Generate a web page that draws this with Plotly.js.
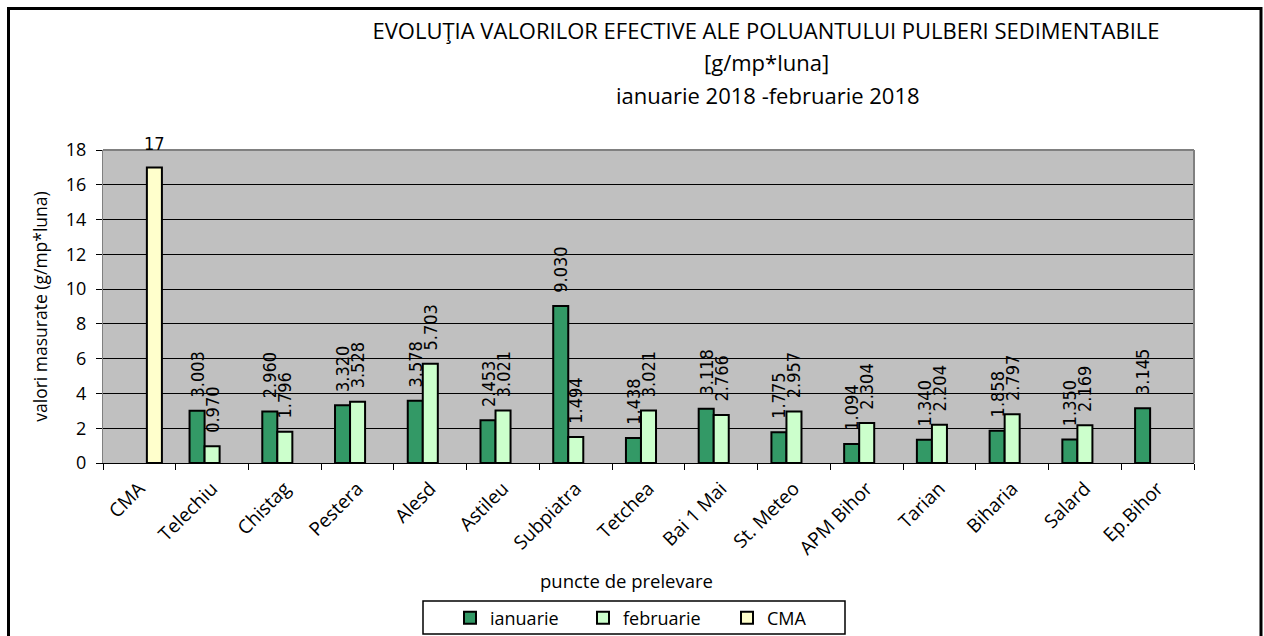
<!DOCTYPE html>
<html>
<head>
<meta charset="utf-8">
<script src="https://cdn.plot.ly/plotly-3.0.1.min.js"></script>
<style>html,body{margin:0;padding:0;background:#fff;}#chart{width:1264px;height:636px;}</style>
</head>
<body>
<div id="chart"></div>
<script>
const categories = ["CMA","Telechiu","Chistag","Pestera","Alesd","Astileu","Subpiatra","Tetchea","Bai 1 Mai","St. Meteo","APM Bihor","Tarian","Biharia","Salard","Ep.Bihor"];
const ianuarie  = [null, 3.003, 2.960, 3.320, 3.578, 2.453, 9.030, 1.438, 3.118, 1.775, 1.094, 1.340, 1.858, 1.350, 3.145];
const februarie = [null, 0.970, 1.796, 3.528, 5.703, 3.021, 1.494, 3.021, 2.766, 2.957, 2.304, 2.204, 2.797, 2.169, null];
const cma       = [17, null, null, null, null, null, null, null, null, null, null, null, null, null, null];
const seriesNames = ["ianuarie", "februarie", "CMA"];
const titleLines = ["EVOLUŢIA VALORILOR EFECTIVE ALE POLUANTULUI PULBERI SEDIMENTABILE", "[g/mp*luna]", "ianuarie 2018 -februarie 2018"];

const W = 1264, H = 636;
const L = 103, R = 1194, T = 150, B = 463;
const px = x => (x - L) / (R - L);
const py = y => (B - y) / (B - T);
const BARGAP = 0.38;

const labelFont = {family: "DejaVu Sans Condensed, DejaVu Sans", size: 18, color: "#000"};
const sans = "Open Sans, Noto Sans, sans-serif";
const PAD = "\u00A0\u00A0";

function barTrace(name, vals, color, fmt, angle, legendId) {
  return {
    type: "bar", name: name, x: categories, y: vals,
    marker: {color: color, line: {color: "#000", width: 2}},
    texttemplate: fmt, textposition: "outside", textangle: angle,
    textfont: labelFont, constraintext: "none", cliponaxis: false,
    legend: legendId,
    hoverinfo: "x+y+name"
  };
}

const data = [
  barTrace(seriesNames[0], ianuarie, "#339966", PAD + "%{y:.3f}", -90, "legend"),
  barTrace(seriesNames[1], februarie, "#CCFFCC", PAD + "%{y:.3f}", -90, "legend2"),
  barTrace(seriesNames[2], cma, "#FFFFCC", "", 0, "legend3")
];

// CMA value label sits horizontally above its bar (third slot of the group)
const catPx = (R - L) / categories.length;
const barPx = catPx * (1 - BARGAP) / 3;
const cmaLabels = categories.map((c, i) => cma[i] == null ? null : {
  text: String(cma[i]), x: c, y: cma[i], xref: "x", yref: "y",
  xanchor: "center", yanchor: "bottom", xshift: barPx, yshift: 11,
  showarrow: false, font: {family: "DejaVu Sans Condensed, DejaVu Sans", size: 18, color: "#000"}
}).filter(a => a);

function legendAt(xPix) {
  return {
    orientation: "h",
    xref: "container", yref: "container",
    x: xPix / W, xanchor: "left",
    y: 1 - 618 / H, yanchor: "middle",
    font: {family: sans, size: 18, color: "#000"},
    bgcolor: "rgba(0,0,0,0)", borderwidth: 0
  };
}

const layout = {
  width: W, height: H,
  margin: {l: L, r: W - R, t: T, b: H - B, pad: 0},
  paper_bgcolor: "#fff",
  plot_bgcolor: "#C0C0C0",
  barmode: "group",
  bargap: BARGAP,
  bargroupgap: 0,
  font: {family: sans, size: 16, color: "#000"},
  title: {
    text: titleLines[0],
    font: {family: sans, size: 22, color: "#000"},
    x: 766 / W, xref: "container", xanchor: "center",
    y: 1 - 31 / H, yref: "container", yanchor: "middle"
  },
  xaxis: {
    type: "category",
    showline: true, linecolor: "#000", linewidth: 1,
    ticks: "outside", ticklen: 6, tickcolor: "#000", tickson: "boundaries",
    tickangle: -45, ticklabelstandoff: 6,
    tickfont: {family: sans, size: 19, color: "#000"},
    showgrid: false, zeroline: false, fixedrange: true
  },
  yaxis: {
    range: [0, 18], dtick: 2,
    showline: true, linecolor: "#808080", linewidth: 1,
    ticks: "outside", ticklen: 6, tickcolor: "#000",
    ticklabelstandoff: 6,
    tickfont: {family: sans, size: 18, color: "#000"},
    showgrid: true, gridcolor: "#000", gridwidth: 1,
    zeroline: false, fixedrange: true,
    title: {text: "valori masurate (g/mp*luna)", font: {family: sans, size: 17.5, color: "#000"}, standoff: 13}
  },
  showlegend: true,
  legend: legendAt(450),
  legend2: legendAt(583),
  legend3: legendAt(727),
  annotations: [
    {text: titleLines[1], xref: "paper", yref: "paper", x: px(766), y: py(62), xanchor: "center", yanchor: "middle", showarrow: false, font: {family: sans, size: 22, color: "#000"}},
    {text: titleLines[2], xref: "paper", yref: "paper", x: px(768), y: py(95), xanchor: "center", yanchor: "middle", showarrow: false, font: {family: sans, size: 22, color: "#000"}},
    {text: "puncte de prelevare", xref: "paper", yref: "paper", x: px(626), y: py(580), xanchor: "center", yanchor: "middle", showarrow: false, font: {family: sans, size: 18.5, color: "#000"}}
  ].concat(cmaLabels),
  shapes: [
    {type: "line", xref: "paper", yref: "paper", x0: 0, x1: 1, y0: 1, y1: 1, line: {color: "#808080", width: 2}},
    {type: "line", xref: "paper", yref: "paper", x0: 1, x1: 1, y0: 0, y1: 1, line: {color: "#808080", width: 2}},
    {type: "rect", xref: "paper", yref: "paper", x0: px(423), x1: px(845), y0: py(634), y1: py(601), line: {color: "#000", width: 1.5}},
    {type: "rect", xref: "paper", yref: "paper", x0: px(8.5), x1: px(1261), y0: py(660), y1: py(8.5), line: {color: "#000", width: 3}}
  ]
};

Plotly.newPlot("chart", data, layout, {displayModeBar: false, staticPlot: true});
</script>
</body>
</html>
